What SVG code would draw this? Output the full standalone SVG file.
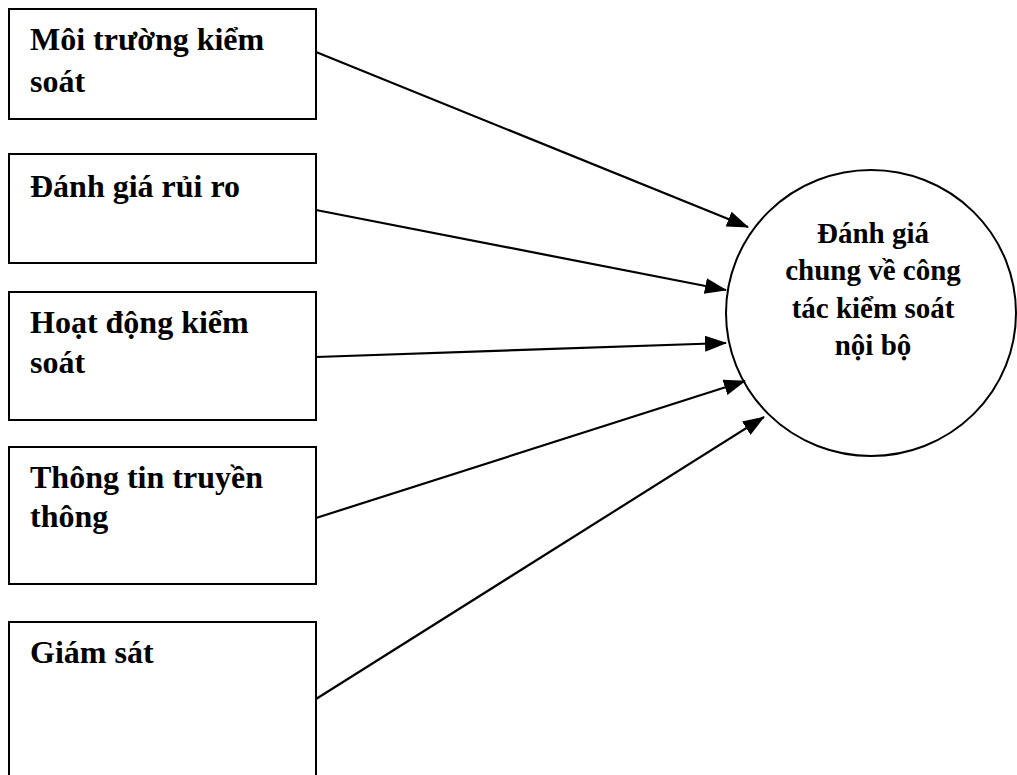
<svg xmlns="http://www.w3.org/2000/svg" width="1017" height="775" viewBox="0 0 1017 775">
<style>
.box{fill:#fff;stroke:#000;stroke-width:2}
.t{font-family:"Liberation Serif","Times New Roman",serif;font-weight:bold;font-size:32px;fill:#000}
.c{font-family:"Liberation Serif","Times New Roman",serif;font-weight:bold;font-size:29px;fill:#000;text-anchor:middle}
.ln{stroke:#000;stroke-width:2.2;fill:none;marker-end:url(#ah)}
</style>
<defs>
<marker id="ah" markerUnits="userSpaceOnUse" markerWidth="22" markerHeight="16" refX="21" refY="8" orient="auto">
<path d="M0,0 L22,8 L0,16 Z" fill="#000"/>
</marker>
</defs>
<rect width="1017" height="775" fill="#fff"/>
<g id="n1"><rect class="box" x="9" y="9" width="307" height="110"/><text class="t" x="30" y="50">Môi trường kiểm</text><text class="t" x="30" y="92">soát</text></g>
<g id="n2"><rect class="box" x="9" y="154" width="307" height="109"/><text class="t" x="30" y="197">Đánh giá rủi ro</text></g>
<g id="n3"><rect class="box" x="9" y="292" width="307" height="128"/><text class="t" x="30" y="333">Hoạt động kiểm</text><text class="t" x="30" y="373">soát</text></g>
<g id="n4"><rect class="box" x="9" y="447" width="307" height="137"/><text class="t" x="30" y="488">Thông tin truyền</text><text class="t" x="30" y="527">thông</text></g>
<g id="n5"><rect class="box" x="9" y="622" width="307" height="170"/><text class="t" x="30" y="663">Giám sát</text></g>
<g id="n6"><ellipse cx="871" cy="313" rx="145" ry="143" fill="#fff" stroke="#000" stroke-width="2"/>
<text class="c" x="873" y="243">Đánh giá</text><text class="c" x="873" y="280">chung về công</text><text class="c" x="873" y="318">tác kiểm soát</text><text class="c" x="873" y="355">nội bộ</text></g>
<g id="connectors">
<line class="ln" x1="316" y1="52" x2="748" y2="227"/>
<line class="ln" x1="316" y1="210" x2="726" y2="290"/>
<line class="ln" x1="316" y1="357" x2="726" y2="343"/>
<line class="ln" x1="316" y1="518" x2="745" y2="381"/>
<line class="ln" x1="316" y1="699" x2="764" y2="417"/>
</g>
</svg>
